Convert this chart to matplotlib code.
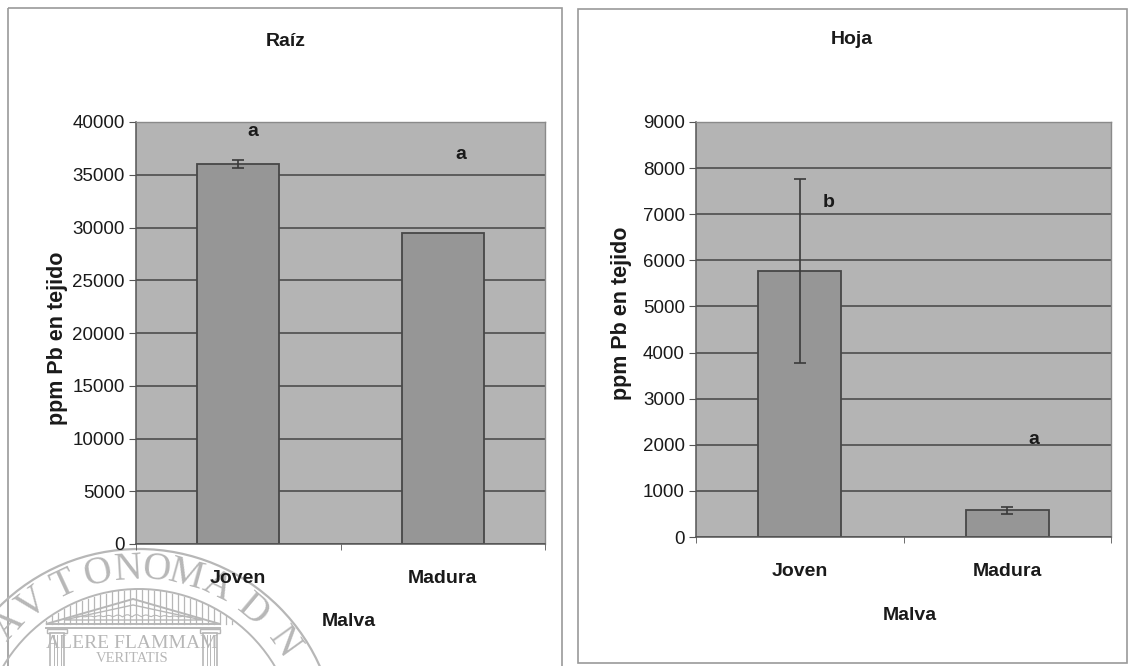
import numpy as np
import matplotlib
matplotlib.use("Agg")
import matplotlib.pyplot as plt
from matplotlib.patches import Rectangle, Circle, Polygon

# ---- data -------------------------------------------------------------
categories = ["Joven", "Madura"]

raiz_values = [36000, 29500]
raiz_errors = [400, 0]
raiz_letters = ["a", "a"]
raiz_ticks = [0, 5000, 10000, 15000, 20000, 25000, 30000, 35000, 40000]

hoja_values = [5770, 580]
hoja_errors = [2000, 75]
hoja_letters = ["b", "a"]
hoja_ticks = [0, 1000, 2000, 3000, 4000, 5000, 6000, 7000, 8000, 9000]

# ---- style ------------------------------------------------------------
plt.rcParams["font.family"] = ["Liberation Sans", "DejaVu Sans"]
W, H = 1129, 666
PLOT_BG = "#b4b4b4"
BAR = "#969696"
EDGE = "#474747"
GRID = "#4d4d4d"
TXT = "#1a1a1a"
SEAL = "#b7b7b7"

fig = plt.figure(figsize=(W / 100, H / 100), dpi=100)
fig.patch.set_facecolor("white")

# background layer in pixel coordinates: panel frames and the seal
bg = fig.add_axes([0, 0, 1, 1], zorder=0)
bg.set_xlim(0, W)
bg.set_ylim(H, 0)
bg.axis("off")

bg.add_patch(Rectangle((8, 8), 554, 700, fill=False, ec="#9a9a9a", lw=1.2))
bg.add_patch(Rectangle((578, 9), 549, 654, fill=False, ec="#9a9a9a", lw=1.2))

# university seal
cx, cy = 139, 747
bg.add_patch(Circle((cx, cy), 198, fill=False, ec=SEAL, lw=1.6))
bg.add_patch(Circle((cx, cy), 158, fill=False, ec=SEAL, lw=1.4))
seal_letters = ["A", "V", "T", "O", "N", "O", "M", "A", "D", "N"]
seal_angles = [-46.8, -36.9, -25.0, -13.3, -3.5, 5.7, 15.4, 26.0, 39.9, 54.2]
for ch, ang in zip(seal_letters, seal_angles):
    t = np.radians(ang)
    bg.text(cx + 178 * np.sin(t), cy - 178 * np.cos(t), ch,
            rotation=-ang, ha="center", va="center", fontsize=28,
            family="Liberation Serif", color=SEAL)

# colonnade hatching inside the inner ring
for xv in np.arange(46, 234, 6.0):
    dx = xv - cx
    if abs(dx) < 157:
        ytop = cy - np.sqrt(157 ** 2 - dx ** 2)
        bg.plot([xv, xv], [ytop, 624], color=SEAL, lw=0.9)
# pediment with a small frieze
bg.add_patch(Polygon([[46, 624], [133, 599], [220, 624]], closed=True,
                     fc="white", ec=SEAL, lw=1.4))
bg.add_patch(Polygon([[64, 620], [133, 605], [202, 620]], closed=True,
                     fc="white", ec=SEAL, lw=1.0))
fx = np.linspace(76, 190, 60)
bg.plot(fx, 617 - 2.5 * np.abs(np.sin(fx / 3.0)) * (1 - np.abs(fx - 133) / 70),
        color=SEAL, lw=0.8)
bg.plot([46, 220], [628, 628], color=SEAL, lw=1.4)
bg.add_patch(Rectangle((46, 629), 174, 40, fc="white", ec="none"))
for x0 in (50, 203):
    bg.add_patch(Rectangle((x0 - 3, 629), 20, 4, fc="white", ec=SEAL, lw=1.0))
    bg.add_patch(Rectangle((x0, 633), 14, 40, fc="white", ec=SEAL, lw=1.2))
    for xx in np.arange(x0 + 3.5, x0 + 12, 3.5):
        bg.plot([xx, xx], [635, 666], color=SEAL, lw=0.7)
bg.text(132, 644, "ALERE FLAMMAM", ha="center", va="center", fontsize=14,
        family="Liberation Serif", color=SEAL)
bg.text(132, 658, "VERITATIS", ha="center", va="center", fontsize=10.5,
        family="Liberation Serif", color=SEAL)


def draw_panel(rect, values, errors, letters, letter_pos, ticks, title,
               title_pos, ylabel_pos, xlabel_pos):
    ax = fig.add_axes(rect, zorder=2)
    ax.set_facecolor(PLOT_BG)
    x = np.arange(len(categories))
    ax.bar(x, values, width=0.4, color=BAR, edgecolor=EDGE, lw=1.3, zorder=2)
    errx = [xi for xi, e in zip(x, errors) if e > 0]
    erry = [v for v, e in zip(values, errors) if e > 0]
    erre = [e for e in errors if e > 0]
    ax.errorbar(errx, erry, yerr=erre, fmt="none", ecolor="#3a3a3a",
                elinewidth=1.2, capsize=4, capthick=1.2, zorder=3)
    ax.set_xlim(-0.5, len(categories) - 0.5)
    ax.set_ylim(ticks[0], ticks[-1])
    ax.set_yticks(ticks)
    ax.set_yticklabels([str(t) for t in ticks], fontsize=13.5, color=TXT)
    ax.yaxis.grid(True, color=GRID, lw=1.2)
    ax.set_axisbelow(True)
    ax.set_xticks(x)
    ax.set_xticklabels(categories, fontsize=14, fontweight="bold", color=TXT)
    ax.set_xticks([-0.5, 0.5, 1.5], minor=True)
    ax.tick_params(axis="x", which="major", length=0, pad=19)
    ax.tick_params(axis="x", which="minor", length=4, color="#555555",
                   direction="out")
    ax.tick_params(axis="y", length=5, color="#555555", direction="out",
                   pad=3)
    for s in ("left", "bottom"):
        ax.spines[s].set_color("#555555")
        ax.spines[s].set_linewidth(1.1)
    for s in ("top", "right"):
        ax.spines[s].set_color("#8a8a8a")
        ax.spines[s].set_linewidth(1.0)
    ax.set_ylabel("ppm Pb en tejido", fontsize=15.5, fontweight="bold",
                  color=TXT)
    ax.yaxis.set_label_coords(*ylabel_pos)
    ax.set_xlabel("Malva", fontsize=14, fontweight="bold", color=TXT)
    ax.xaxis.set_label_coords(*xlabel_pos)
    ax.text(title_pos[0], title_pos[1], title, transform=ax.transAxes,
            ha="center", va="center", fontsize=14, fontweight="bold",
            color=TXT)
    for lab, (lx, ly) in zip(letters, letter_pos):
        ax.text(lx, ly, lab, ha="center", va="center", fontsize=14,
                fontweight="bold", color=TXT, zorder=4)
    return ax


# left panel: plot area 136..545 px, 122..544 px
draw_panel([136 / W, 1 - 544 / H, 409 / W, 422 / H],
           raiz_values, raiz_errors, raiz_letters,
           [(0.07, 39100), (1.09, 36900)], raiz_ticks, "Raíz",
           ((286 - 136) / 409, (544 - 42) / 422),
           (-0.166, 0.488), (0.521, -0.163))

# right panel: plot area 696..1111 px, 122..537 px
draw_panel([696 / W, 1 - 537 / H, 415 / W, 415 / H],
           hoja_values, hoja_errors, hoja_letters,
           [(0.14, 7265), (1.13, 2104)], hoja_ticks, "Hoja",
           ((852 - 696) / 415, (537 - 40) / 415),
           (-0.154, 0.54), (0.516, -0.169))

fig.savefig("out.png", dpi=100, facecolor="white")
